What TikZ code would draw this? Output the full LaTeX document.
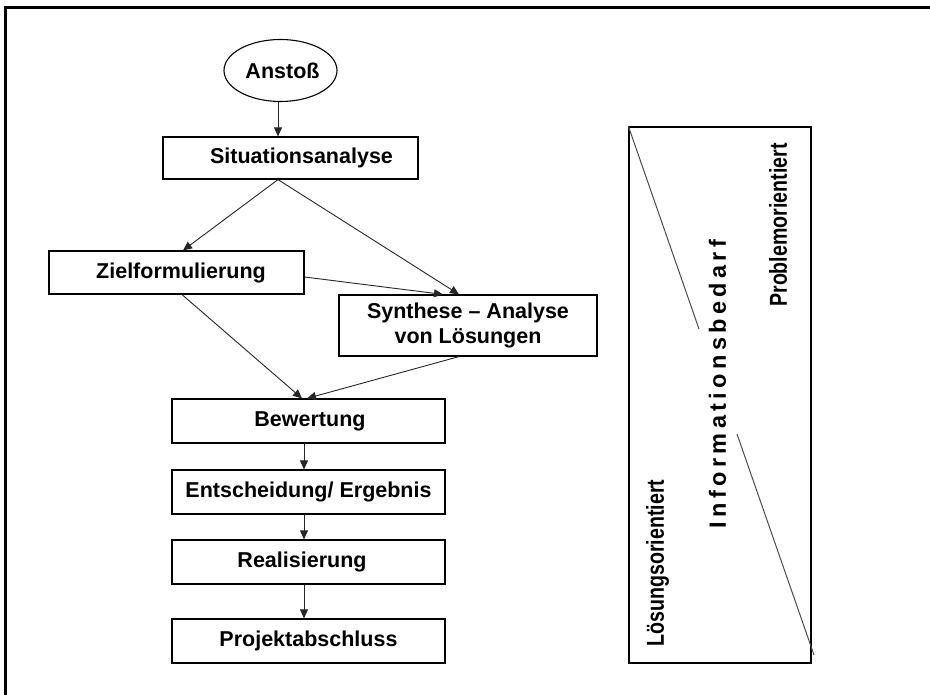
\documentclass[tikz,border=0pt]{standalone}
\usepackage{fontspec}
\setmainfont{Liberation Sans}
\newfontfamily\spacedfont[LetterSpace=18.5]{Liberation Sans}
\usetikzlibrary{arrows.meta,shapes.geometric}

\tikzset{
  every node/.style={font=\bfseries\fontsize{21.5}{24}\selectfont, inner sep=0pt},
  stepbox/.style={draw=black, line width=1.2pt, rectangle, minimum height=43pt},
  startshape/.style={draw=black, line width=1.1pt, ellipse, minimum width=113pt, minimum height=62pt},
  flow/.style={draw=black!85, line width=0.9pt, -{Triangle[length=9pt,width=8pt]}},
  diag/.style={draw=black!70, line width=1pt},
  sidetext/.style={rotate=90, font=\bfseries\fontsize{24.5}{27}\selectfont}
}

\begin{document}
\begin{tikzpicture}[x=1pt,y=-1pt]
  \useasboundingbox (0,0) rectangle (930,695);
  \fill[white] (0,0) rectangle (930,695);

  % outer frame (only top and left edge lie inside the page)
  \draw[line width=2.7pt] (5.7,705) -- (5.7,7.7) -- (940,7.7);

  % flow chart
  \node[startshape] (anstoss) at (280.5,70.5) {\hspace*{4pt}Ansto\ss};
  \node[stepbox, minimum width=255pt, minimum height=42pt] (sit) at (290.5,158) {\hspace*{22pt}Situationsanalyse};
  \node[stepbox, minimum width=255pt] (ziel) at (176.5,272.5) {\hspace*{9pt}Zielformulierung};
  \node[stepbox, minimum width=258pt, minimum height=61pt, align=center] (synth) at (468,325.5)
    {Synthese -- Analyse\\[1pt]von L\"osungen};
  \node[stepbox, minimum width=273pt, minimum height=44pt] (bew) at (308.5,421) {\hspace*{3pt}Bewertung};
  \node[stepbox, minimum width=273pt, minimum height=44pt] (ent) at (308.5,492) {Entscheidung/ Ergebnis};
  \node[stepbox, minimum width=273pt, minimum height=44pt] (real) at (308.5,562) {Realisierung\hspace*{13pt}};
  \node[stepbox, minimum width=273pt, minimum height=44pt] (proj) at (308.5,641) {Projektabschluss};

  % connectors
  \draw[flow] ([xshift=-2.5pt]anstoss.south) -- ([xshift=-12.5pt]sit.north);
  \draw[flow] ([xshift=-12.5pt]sit.south) -- ([xshift=6.5pt]ziel.north);
  \draw[flow] ([xshift=-12.5pt]sit.south) -- ([xshift=-9pt]synth.north);
  \draw[flow] ([yshift=-4.5pt]ziel.east) -- ([xshift=-25pt]synth.north);
  \draw[flow] ([xshift=5.5pt]ziel.south) -- ([xshift=-6.5pt]bew.north);
  \draw[flow] ([xshift=-9pt]synth.south) -- ([xshift=-1.5pt]bew.north);
  \draw[flow] ([xshift=-4.5pt]bew.south) -- ([xshift=-4.5pt]ent.north);
  \draw[flow] ([xshift=-4.5pt]ent.south) -- ([xshift=-4.5pt]real.north);
  \draw[flow] ([xshift=-4.5pt]real.south) -- ([xshift=-4.5pt]proj.north);

  % information demand panel
  \node[draw=black, line width=1.1pt, rectangle, minimum width=182pt, minimum height=536pt] (info) at (720,395) {};
  \coordinate (upperend) at (699,329);
  \coordinate (lowerstart) at (737,434);
  \coordinate (lowerend) at (814,655);
  \draw[diag] (info.north west) -- (upperend);
  \draw[diag] (lowerstart) -- (lowerend);

  \node[sidetext] (problem) at (778,225) {\scalebox{0.8}[1]{Problemorientiert}};
  \node[sidetext] (loesung) at (657.5,563) {\scalebox{0.8}[1]{L\"osungsorientiert}};
  \node[sidetext, font=\fontsize{23.5}{26}\selectfont] (bedarf) at (717.5,384) {\spacedfont\bfseries Informationsbedarf};
\end{tikzpicture}
\end{document}
